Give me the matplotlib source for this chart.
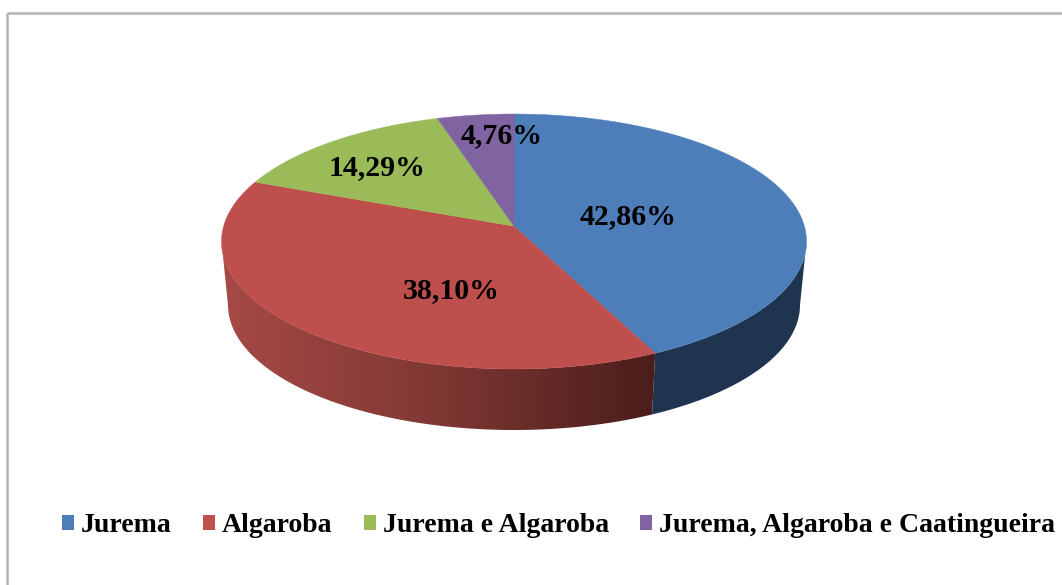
import numpy as np
import matplotlib
matplotlib.use("Agg")
import matplotlib.pyplot as plt
from matplotlib.colors import LinearSegmentedColormap
from matplotlib.patches import Polygon, Patch

categories = ["Jurema", "Algaroba", "Jurema e Algaroba", "Jurema, Algaroba e Caatingueira"]
percent = [42.86, 38.10, 14.29, 4.76]
percent_labels = ["42,86%", "38,10%", "14,29%", "4,76%"]
colors = ["#4D7EBA", "#BF4F4C", "#9BBB59", "#8064A2"]

# pie geometry in image pixels
W, H = 1062, 585
top = dict(cx=514, cy=241.5, rx=292.5, ry=127.5)
bot = dict(cx=514, cy=305, rx=286, ry=125)
SKEW = 0.12   # perspective: the apex sits above the ellipse centre
label_pos = [(628, 217), (451, 291), (377, 168), (502, 136)]


def project(t, e):
    # t is clockwise from 12 o'clock, in radians
    u, v = np.sin(t), np.cos(t)
    w = (v + SKEW) / (1 + SKEW * v)
    x = u * np.sqrt(1 - SKEW ** 2) / (1 + SKEW * v)
    return e["cx"] + e["rx"] * x, e["cy"] - e["ry"] * w


def wall(ax, t0, t1, cmap, x0, x1):
    # shaded side of the pie between two angles
    t = np.linspace(t0, t1, 300)
    xt, yt = project(t, top)
    xb, yb = project(t[::-1], bot)
    pts = list(zip(xt, yt)) + list(zip(xb, yb))
    poly = Polygon(pts, closed=True, facecolor="none", edgecolor="none")
    ax.add_patch(poly)
    grad = np.linspace(0, 1, 256).reshape(1, -1)
    im = ax.imshow(grad, cmap=cmap, extent=(x0, x1, 440, 230), aspect="auto", interpolation="bilinear")
    im.set_clip_path(poly)


fig = plt.figure(figsize=(W / 100, H / 100), dpi=100)
ax = fig.add_axes([0, 0, 1, 1])
ax.axis("off")

# chart frame
ax.plot([7, 7], [H, 13], color="#B4B4B4", lw=1.8, solid_capstyle="butt")
ax.plot([7, W], [13, 13], color="#B4B4B4", lw=1.8, solid_capstyle="butt")

edges = np.radians(np.cumsum([0] + percent) * 3.6)

# the outline of the ellipse is widest a bit below 90 and 270 degrees
widest = np.arcsin(SKEW)
red_side = LinearSegmentedColormap.from_list("red_side", ["#A64A46", "#7F3733", "#4A1D1B"])
blue_side = LinearSegmentedColormap.from_list("blue_side", ["#1F344F", "#1F344F"])
wall(ax, np.pi / 2 + widest, edges[1], blue_side, 640, 810)
wall(ax, edges[1], 3 * np.pi / 2 - widest, red_side, 222, 656)

# top face
apex = (top["cx"], top["cy"] - top["ry"] * SKEW)
for i in range(4):
    t = np.linspace(edges[i], edges[i + 1], 200)
    x, y = project(t, top)
    pts = [apex] + list(zip(x, y))
    ax.add_patch(Polygon(pts, closed=True, facecolor=colors[i], edgecolor=colors[i], lw=0.3))

for txt, (x, y) in zip(percent_labels, label_pos):
    ax.text(x, y, txt, ha="center", va="center", fontsize=21.5, fontweight="bold",
            family="Liberation Serif", color="black")

ax.set_xlim(0, W)
ax.set_ylim(H, 0)

handles = [Patch(facecolor=c, label=n) for c, n in zip(colors, categories)]
ax.legend(handles=handles, loc="center", bbox_to_anchor=(558.5, 526), bbox_transform=ax.transData,
          ncol=4, frameon=False, handlelength=0.43, handleheight=0.43, handletextpad=0.26,
          columnspacing=1.12, borderpad=0, borderaxespad=0,
          prop=dict(family="Liberation Serif", weight="bold", size=20))

fig.savefig("out.png", dpi=100)
